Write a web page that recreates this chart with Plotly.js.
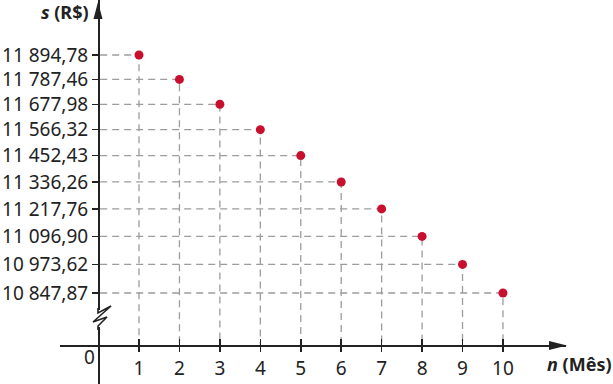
<!DOCTYPE html>
<html>
<head>
<meta charset="utf-8">
<script src="https://cdn.plot.ly/plotly-3.0.1.min.js"></script>
<style>html,body{margin:0;padding:0;background:#fff;}#chart{width:613px;height:384px;}</style>
</head>
<body>
<div id="chart"></div>
<script>
// ---- data ----
var months = [1, 2, 3, 4, 5, 6, 7, 8, 9, 10];
var sValues = [11894.78, 11787.46, 11677.98, 11566.32, 11452.43, 11336.26, 11217.76, 11096.90, 10973.62, 10847.87];
var sLabels = ["11 894,78", "11 787,46", "11 677,98", "11 566,32", "11 452,43", "11 336,26", "11 217,76", "11 096,90", "10 973,62", "10 847,87"];
var xTickLabels = ["1", "2", "3", "4", "5", "6", "7", "8", "9", "10"];

// ---- layout geometry ----
var W = 613, H = 384;
var yRange = [10447.6, 12136.7];
var xRange = [-0.9535, 11.559];
var xDomain = [60 / W, 566 / W];
var xAxisPos = 1 - 345 / H;           // paper y of the horizontal axis
var yAxisPos = 98 / W;                // paper x of the vertical axis
var yBase = yRange[0] + xAxisPos * (yRange[1] - yRange[0]);

function px(x) { return x / W; }
function py(y) { return 1 - y / H; }

// guide lines built from data
var gx = [], gy = [];
for (var i = 0; i < months.length; i++) {
  gx.push(0.04, months[i], months[i], null);
  gy.push(sValues[i], sValues[i], yBase, null);
}

var font = "Noto Sans, Open Sans, sans-serif";
var axisColor = "#222";

var traces = [
  {x: gx, y: gy, mode: "lines", line: {color: "#9c9c9c", width: 1.3, dash: "7px,5px"}, hoverinfo: "skip", showlegend: false},
  {x: months, y: sValues, mode: "markers", marker: {color: "#c8102e", size: 9}, showlegend: false},
  {x: [months[0]], y: [sValues[0]], xaxis: "x2", mode: "markers", marker: {opacity: 0}, showlegend: false, hoverinfo: "skip"}
];

function tri(x1, y1, x2, y2, x3, y3) {
  return "M" + px(x1) + "," + py(y1) + " L" + px(x2) + "," + py(y2) + " L" + px(x3) + "," + py(y3) + " Z";
}

var layout = {
  width: W, height: H,
  margin: {l: 0, r: 0, t: 0, b: 0},
  paper_bgcolor: "#fff", plot_bgcolor: "rgba(0,0,0,0)",
  showlegend: false,
  font: {family: font, color: "#222", size: 19},
  xaxis: {
    range: xRange, domain: xDomain, anchor: "free", position: xAxisPos,
    showgrid: false, zeroline: false, showline: true, linecolor: axisColor, linewidth: 1.8,
    tickmode: "array", tickvals: months, ticktext: xTickLabels,
    ticks: "outside", ticklen: 5, tickwidth: 1.5, tickcolor: axisColor,
    tickfont: {family: font, size: 19, color: "#222"}, fixedrange: true
  },
  xaxis2: {
    range: xRange, domain: xDomain, anchor: "free", position: xAxisPos, overlaying: "x",
    showgrid: false, zeroline: false, showline: false,
    tickmode: "array", tickvals: months, showticklabels: false,
    ticks: "inside", ticklen: 6, tickwidth: 1.5, tickcolor: axisColor, fixedrange: true
  },
  yaxis: {
    range: yRange, domain: [0, 1], anchor: "free", position: yAxisPos,
    showgrid: false, zeroline: false, showline: true, linecolor: axisColor, linewidth: 1.8,
    tickmode: "array", tickvals: sValues, ticktext: sLabels,
    ticks: "outside", ticklen: 6, tickwidth: 1.5, tickcolor: axisColor,
    tickfont: {family: font, size: 19, color: "#222"}, fixedrange: true
  },
  shapes: [
    // arrowheads
    {type: "path", xref: "paper", yref: "paper", path: tri(98, 2, 93.5, 19, 102.5, 19), fillcolor: axisColor, line: {width: 0}},
    {type: "path", xref: "paper", yref: "paper", path: tri(567, 345.5, 549, 341, 549, 350), fillcolor: axisColor, line: {width: 0}},
    // break in y axis
    {type: "rect", xref: "paper", yref: "paper", x0: px(94), x1: px(102), y0: py(327), y1: py(310), fillcolor: "#fff", line: {width: 0}},
    {type: "path", xref: "paper", yref: "paper",
     path: "M" + px(98) + "," + py(308) + " L" + px(98) + "," + py(313) + " L" + px(111) + "," + py(306) +
           " L" + px(93) + "," + py(322) + " L" + px(107) + "," + py(317) + " L" + px(98) + "," + py(326) + " L" + px(98) + "," + py(330),
     line: {color: axisColor, width: 1.6}}
  ],
  annotations: [
    {xref: "paper", yref: "paper", x: px(89), y: py(357), text: "0", showarrow: false, xanchor: "center", yanchor: "middle",
     font: {family: font, size: 19, color: "#222"}},
    {xref: "paper", yref: "paper", x: px(91), y: py(12), text: "<b><i>s</i> (R$)</b>", showarrow: false, xanchor: "right", yanchor: "middle",
     font: {family: font, size: 18, color: "#222"}},
    {xref: "paper", yref: "paper", x: px(614), y: py(364), text: "<b><i>n</i> (Mês)</b>", showarrow: false, xanchor: "right", yanchor: "middle",
     font: {family: font, size: 18, color: "#222"}}
  ]
};

Plotly.newPlot("chart", traces, layout, {displayModeBar: false, staticPlot: true});
</script>
</body>
</html>
